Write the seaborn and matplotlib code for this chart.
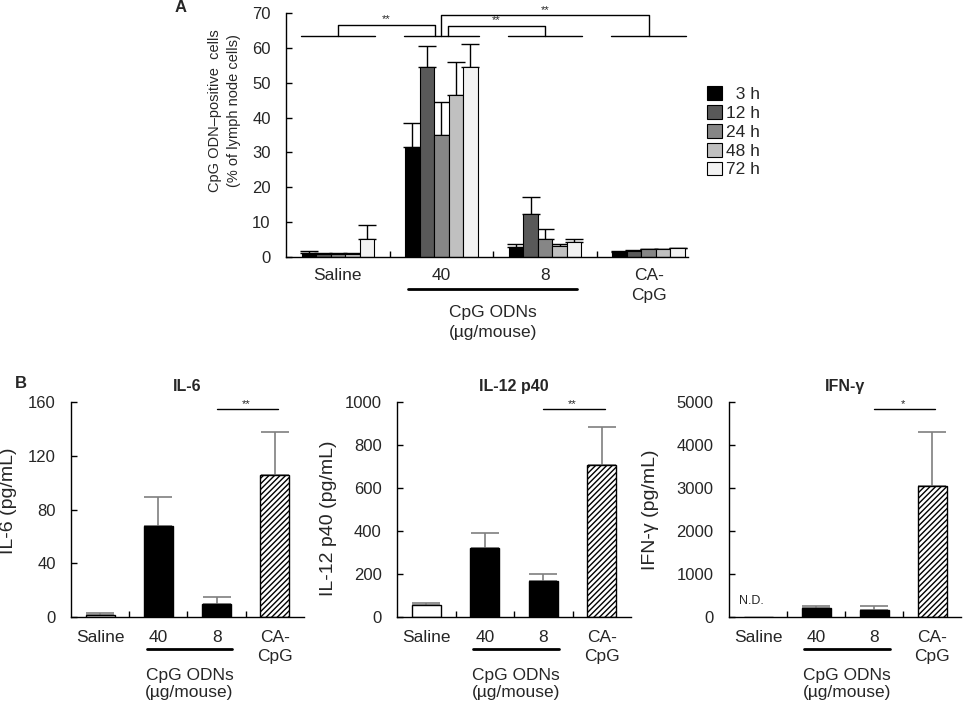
import matplotlib
matplotlib.use("Agg")
import matplotlib.pyplot as plt
from matplotlib.patches import Patch
from matplotlib import transforms
import numpy as np
import pandas as pd
import seaborn as sns

# ------------------------------------------------------------------
# Datos panel A: celulas CpG ODN-positivas por grupo y tiempo
# ------------------------------------------------------------------
grupos_a = ["Saline", "40", "8", "CA-\nCpG"]
tiempos = ["3 h", "12 h", "24 h", "48 h", "72 h"]
val_3h = [1.2, 31.6, 2.9, 1.5]
val_12h = [1.0, 54.4, 12.4, 1.8]
val_24h = [1.0, 35.0, 5.2, 2.2]
val_48h = [1.0, 46.4, 3.2, 2.2]
val_72h = [5.1, 54.4, 4.4, 2.5]
sd_3h = [0.4, 6.7, 0.7, 0.1]
sd_12h = [0.1, 6.1, 4.9, 0.2]
sd_24h = [0.1, 9.5, 2.8, 0.2]
sd_48h = [0.1, 9.6, 0.4, 0.2]
sd_72h = [4.1, 6.6, 0.8, 0.2]

# ------------------------------------------------------------------
# Datos panel B: citoquinas
# ------------------------------------------------------------------
grupos_b = ["Saline", "40", "8", "CA-\nCpG"]
il6 = [1.2, 68, 10, 106]
il6_sd = [2.0, 21, 5, 32]
il12 = [54, 323, 166, 709]
il12_sd = [13, 70, 33, 174]
ifng = [0, 218, 155, 3056]
ifng_sd = [0, 31, 94, 1252]

sns.set_style("ticks")
plt.rcParams["font.family"] = ["Liberation Sans", "DejaVu Sans"]
plt.rcParams["hatch.linewidth"] = 1.0

fig = plt.figure(figsize=(9.65, 7.07), dpi=100)
W, H = 965, 707


def eje(x0, x1, y0, y1):
    return fig.add_axes([x0 / W, 1 - y1 / H, (x1 - x0) / W, (y1 - y0) / H])


def estilo(ax, etiquetas, pad_x):
    sns.despine(ax=ax)
    for s in ["left", "bottom"]:
        ax.spines[s].set_linewidth(1.0)
        ax.spines[s].set_color("black")
    ax.set_xticks(range(len(etiquetas)))
    ax.set_xticklabels(etiquetas, fontsize=12.5)
    for lbl in ax.get_xticklabels():
        lbl.set_linespacing(1.4)
    ax.set_xticks([0.5, 1.5, 2.5], minor=True)
    ax.tick_params(axis="x", which="major", length=0, pad=pad_x)
    ax.tick_params(axis="x", which="minor", direction="in", length=4, width=1, color="black")
    ax.tick_params(axis="y", direction="in", length=4, width=1, color="black", labelsize=12, pad=11)
    ax.set_xlabel("")


def cpg_odns(ax, x0, x1, y_linea, y_texto, interlineado):
    trans = transforms.blended_transform_factory(ax.transData, ax.transAxes)
    ax.plot([x0, x1], [y_linea, y_linea], color="black", lw=2, transform=trans, clip_on=False)
    ax.text((x0 + x1) / 2, y_texto, "CpG ODNs\n(\u00b5g/mouse)", transform=trans,
            ha="center", va="top", fontsize=12.5, linespacing=interlineado)


# ------------------------------------------------------------------
# Panel A
# ------------------------------------------------------------------
ax_a = eje(286, 688, 13, 257)
colores_a = ["#000000", "#595959", "#868686", "#c0c0c0", "#f2f2f2"]
valores = [val_3h, val_12h, val_24h, val_48h, val_72h]
sds = [sd_3h, sd_12h, sd_24h, sd_48h, sd_72h]

df_a = pd.DataFrame({
    "grupo": np.tile(grupos_a, len(tiempos)),
    "tiempo": np.repeat(tiempos, len(grupos_a)),
    "valor": np.concatenate(valores),
})
sns.barplot(data=df_a, x="grupo", y="valor", hue="tiempo", order=grupos_a, hue_order=tiempos,
            palette=colores_a, width=0.7, gap=0, edgecolor="black", linewidth=0.8,
            errorbar=None, legend=False, ax=ax_a)

for cont, v, s in zip(ax_a.containers, valores, sds):
    xs = [b.get_x() + b.get_width() / 2 for b in cont]
    ax_a.errorbar(xs, v, yerr=[np.zeros(len(s)), s], fmt="none", ecolor="black",
                  elinewidth=1, capsize=6.5, capthick=1, zorder=0.9)

ax_a.set_xlim(-0.5, 3.38)
ax_a.set_ylim(0, 70)
ax_a.set_yticks(range(0, 71, 10))
estilo(ax_a, grupos_a, 8)
ax_a.set_ylabel("CpG ODN\u2013positive  cells\n(% of lymph node cells)", fontsize=10.5, linespacing=1.45)
ax_a.yaxis.set_label_coords(-0.113, 0.6)

# corchetes de significancia
for i in range(4):
    ax_a.plot([i - 0.36, i + 0.36], [63.3, 63.3], color="black", lw=1, clip_on=False)
for xa, xb, yt in [(0, 0.94, 66.5), (1.06, 2.0, 66.4), (1.0, 3.0, 69.3)]:
    ax_a.plot([xa, xa, xb, xb], [63.3, yt, yt, 63.3], color="black", lw=1, clip_on=False)
    ax_a.text((xa + xb) / 2, yt + 0.2, "**", ha="center", va="bottom", fontsize=8, clip_on=False)

cpg_odns(ax_a, 0.68, 2.31, -0.131, -0.197, 1.45)

handles = [Patch(facecolor=c, edgecolor="black", linewidth=0.8,
                 label=("  " + t if len(t) == 3 else t)) for c, t in zip(colores_a, tiempos)]
fig.legend(handles=handles, loc="upper left", bbox_to_anchor=(707 / W, 1 - 86 / H),
           frameon=False, fontsize=12.5, handlelength=0.85, handleheight=0.85,
           labelspacing=0.17, handletextpad=0.25, borderpad=0, borderaxespad=0)

fig.text(181 / W, 1 - 8 / H, "A", fontsize=12, fontweight="bold", ha="center", va="center")
fig.text(21 / W, 1 - 383 / H, "B", fontsize=12, fontweight="bold", ha="center", va="center")


# ------------------------------------------------------------------
# Panel B
# ------------------------------------------------------------------
def panel_b(ax, valores, sd, colores, titulo, ylabel, ymax, paso, sig, sig_y, lab_x, lab_y):
    df = pd.DataFrame({"grupo": grupos_b, "valor": valores})
    sns.barplot(data=df, x="grupo", y="valor", hue="grupo", order=grupos_b, palette=colores,
                legend=False, width=0.5, edgecolor="black", linewidth=1, errorbar=None, ax=ax)
    ax.patches[3].set_hatch("//////")
    xs = np.array([p.get_x() + p.get_width() / 2 for p in ax.patches[:4]])
    v = np.array(valores, dtype=float)
    s = np.array(sd, dtype=float)
    m = s > 0
    ax.errorbar(xs[m], v[m], yerr=[np.zeros(m.sum()), s[m]], fmt="none", ecolor="#7f7f7f",
                elinewidth=1.2, capsize=10, capthick=1.2, zorder=0.9)
    ax.set_xlim(-0.5, 3.5)
    ax.set_ylim(0, ymax)
    ax.set_yticks(np.arange(0, ymax + 1, paso))
    estilo(ax, grupos_b, 9)
    ax.set_ylabel(ylabel, fontsize=14)
    ax.yaxis.set_label_coords(lab_x, lab_y)
    ax.set_title(titulo, fontsize=11.5, fontweight="bold", pad=8)
    ax.plot([2.0, 3.05], [sig_y, sig_y], color="black", lw=1, clip_on=False)
    ax.text(2.5, sig_y, sig, ha="center", va="bottom", fontsize=8)
    cpg_odns(ax, 0.8, 2.27, -0.149, -0.235, 1.2)


ax_b1 = eje(71, 304, 402, 617)
panel_b(ax_b1, il6, il6_sd, ["white", "black", "black", "white"], "IL-6", "IL-6 (pg/mL)",
        160, 40, "**", 154.7, -0.232, 0.54)

ax_b2 = eje(397, 631, 402, 617)
panel_b(ax_b2, il12, il12_sd, ["white", "black", "black", "white"], "IL-12 p40", "IL-12 p40 (pg/mL)",
        1000, 200, "**", 967, -0.256, 0.46)

ax_b3 = eje(729, 961, 402, 617)
panel_b(ax_b3, ifng, ifng_sd, ["white", "black", "black", "white"], "IFN-\u03b3", "IFN-\u03b3 (pg/mL)",
        5000, 1000, "*", 4837, -0.3, 0.5)
ax_b3.text(-0.12, 380, "N.D.", ha="center", va="center", fontsize=9)

fig.savefig("out.png", dpi=100)
